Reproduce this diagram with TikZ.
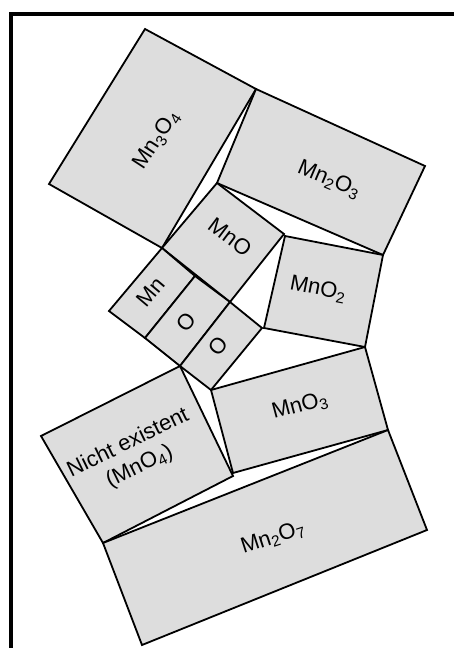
\documentclass[tikz,border=0pt]{standalone}
\usepackage{fontspec}
\setmainfont{Liberation Sans}
\definecolor{boxgray}{RGB}{221,221,221}
\newcommand{\ssb}[1]{\textsubscript{#1}}
\tikzset{
  tile/.style={fill=boxgray, draw=black, line width=1.8bp, line join=miter},
  lab/.style={font=\fontsize{22bp}{26bp}\selectfont, inner sep=0pt, align=center},
}
\begin{document}
\begin{tikzpicture}[x=1bp,y=-1bp]
\useasboundingbox (0,0) rectangle (454,648);
% frame (top and left bars)
\fill[black] (9,12) rectangle (454,16);
\fill[black] (9,12) rectangle (13,648);
% vertices
\coordinate (A1) at (145,29);
\coordinate (A2) at (256,89);
\coordinate (A3) at (162,248);
\coordinate (A4) at (49,184);
\coordinate (B2) at (425,166);
\coordinate (B3) at (383,255);
\coordinate (B4) at (217,183);
\coordinate (C2) at (284,234);
\coordinate (C3) at (230,302);
\coordinate (D2) at (195,276);
\coordinate (D3) at (145,338);
\coordinate (D4) at (109,311);
\coordinate (E3) at (180,366);
\coordinate (F2) at (262,328);
\coordinate (F3) at (211,390);
\coordinate (G1) at (285,236);
\coordinate (G3) at (365,347);
\coordinate (G4) at (264,328);
\coordinate (H3) at (388,430);
\coordinate (H4) at (233,473);
\coordinate (I2) at (233,476);
\coordinate (I3) at (103,543);
\coordinate (I4) at (41,436);
\coordinate (J3) at (427,530);
\coordinate (J4) at (142,645);
% tiles
\draw[tile] (A1) -- (A2) -- (A3) -- (A4) -- cycle;
\draw[tile] (A2) -- (B2) -- (B3) -- (B4) -- cycle;
\draw[tile] (B4) -- (C2) -- (C3) -- (A3) -- cycle;
\draw[tile] (A3) -- (D2) -- (D3) -- (D4) -- cycle;
\draw[tile] (D2) -- (C3) -- (E3) -- (D3) -- cycle;
\draw[tile] (C3) -- (F2) -- (F3) -- (E3) -- cycle;
\draw[tile] (G1) -- (B3) -- (G3) -- (G4) -- cycle;
\draw[tile] (F3) -- (G3) -- (H3) -- (H4) -- cycle;
\draw[tile] (E3) -- (I2) -- (I3) -- (I4) -- cycle;
\draw[tile] (I3) -- (H3) -- (J3) -- (J4) -- cycle;
% labels
\node[lab, rotate=57] (tMn3O4) at (157,140) {Mn\ssb{3}O\ssb{4}};
\node[lab, rotate=-23] (tMn2O3) at (329,180) {Mn\ssb{2}O\ssb{3}};
\node[lab, rotate=-37] (tMnO) at (230,237) {MnO};
\node[lab, rotate=50] (tMn) at (151,292) {Mn};
\node[lab, rotate=50] (tO1) at (186,322) {O};
\node[lab, rotate=50] (tO2) at (218,346) {O};
\node[lab, rotate=-11] (tMnO2) at (318,289) {MnO\ssb{2}};
\node[lab, rotate=15] (tMnO3) at (300,406) {MnO\ssb{3}};
\node[lab, rotate=26] (tNicht) at (134,455) {Nicht existent\\(MnO\ssb{4})};
\node[lab, rotate=18] (tMn2O7) at (273,538) {Mn\ssb{2}O\ssb{7}};
\end{tikzpicture}
\end{document}
